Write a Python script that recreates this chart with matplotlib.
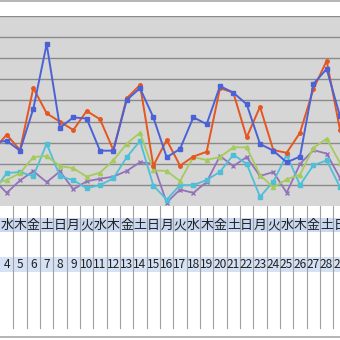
import matplotlib
matplotlib.use("Agg")
import matplotlib.pyplot as plt

plt.rcParams['font.family'] = ['Noto Sans CJK JP', 'DejaVu Sans']

# days shown in the sheet (day 3 sits just off the left edge, day 29 on the right edge)
days = list(range(3, 30))
week = ["火", "水", "木", "金", "土", "日", "月"]
weekdays = [week[(d - 3) % 7] for d in days]
day_labels = [str(d) for d in days]

blue = [30.0, 30.9, 26.2, 46.1, 76.7, 37.1, 42.0, 41.4, 26.2, 26.2, 50.2, 55.8, 42.0, 23.1,
        27.0, 42.0, 38.8, 56.8, 53.7, 48.2, 29.4, 26.2, 20.7, 23.4, 57.8, 64.9, 42.6]
red = [26.5, 33.8, 26.5, 55.9, 43.9, 39.9, 36.0, 45.0, 41.1, 26.5, 51.0, 57.3, 19.1, 31.3,
       19.1, 23.4, 25.7, 55.8, 53.7, 32.5, 47.0, 26.5, 25.2, 34.7, 55.3, 68.8, 36.0]
green = [10.4, 12.3, 15.6, 23.2, 23.7, 18.9, 17.9, 13.9, 15.8, 21.6, 29.5, 34.7, 16.9, 16.6,
         11.8, 23.1, 21.8, 23.2, 27.8, 27.8, 14.7, 8.8, 12.6, 14.8, 27.5, 31.9, 20.4]
cyan = [6.6, 15.6, 16.1, 14.1, 29.5, 14.1, 12.2, 8.4, 9.9, 13.1, 23.1, 30.8, 9.7, 3.0,
        9.9, 9.9, 12.3, 16.2, 24.3, 20.0, 4.4, 11.5, 24.2, 9.9, 19.3, 21.6, 9.0]
purple = [12.8, 6.2, 12.1, 16.5, 11.3, 16.4, 7.9, 11.7, 12.9, 13.9, 16.6, 20.7, 20.0, 1.6,
          7.8, 6.2, 11.4, 23.7, 18.9, 23.2, 14.2, 16.1, 6.3, 19.9, 26.5, 24.8, 13.3]

W = H = 340
col_w = 13.333

fig = plt.figure(figsize=(3.4, 3.4), dpi=100)

# sheet layer in pixel coords
sheet = fig.add_axes([0, 0, 1, 1])
sheet.set_xlim(0, W)
sheet.set_ylim(H, 0)
sheet.axis("off")
sheet.axhline(1, color="#a8a8a8", lw=1.2)
sheet.axhline(337, color="#a8a8a8", lw=1.2)
sheet.axhspan(218, 232, color="#c9d9f1", lw=0)
sheet.axhspan(257, 272, color="#d5e2f5", lw=0)
for k in range(1, 26):
    sheet.plot([k * col_w, k * col_w], [206, 328], color="#a0a0a0", lw=0.8)
for i in range(1, len(days)):
    cx = (i - 0.5) * col_w
    sheet.text(cx, 225.5, weekdays[i], ha="center", va="center",
               fontsize=9.3, color="#202020")
    sheet.text(cx, 265, day_labels[i], ha="center", va="center",
               fontsize=8.6, color="#202020")

# chart plot area
ax = fig.add_axes([0, (H - 206) / H, 1, 190 / H])
ax.set_facecolor("#d6d6d6")
ax.set_xlim(3.5, 29.0)
ax.set_ylim(0, 90)
for v in range(10, 100, 10):
    ax.axhline(v, color="#8a8a8a", lw=1.0, zorder=1)
for s in ax.spines.values():
    s.set_visible(False)
ax.set_xticks([])
ax.set_yticks([])

ax.plot(days, purple, color="#9273bb", lw=1.3, marker="x", ms=3.5, mew=1.0, zorder=3)
ax.plot(days, cyan, color="#4fbfd8", lw=1.3, marker="s", ms=2.5, zorder=3)
ax.plot(days, green, color="#a5cb5e", lw=1.3, marker="^", ms=3, zorder=3)
ax.plot(days, red, color="#e6561f", lw=1.4, marker="o", ms=2.5, zorder=4)
ax.plot(days, blue, color="#4a62d6", lw=1.4, marker="s", ms=3.2, zorder=5)

fig.savefig("out.png", dpi=100)
